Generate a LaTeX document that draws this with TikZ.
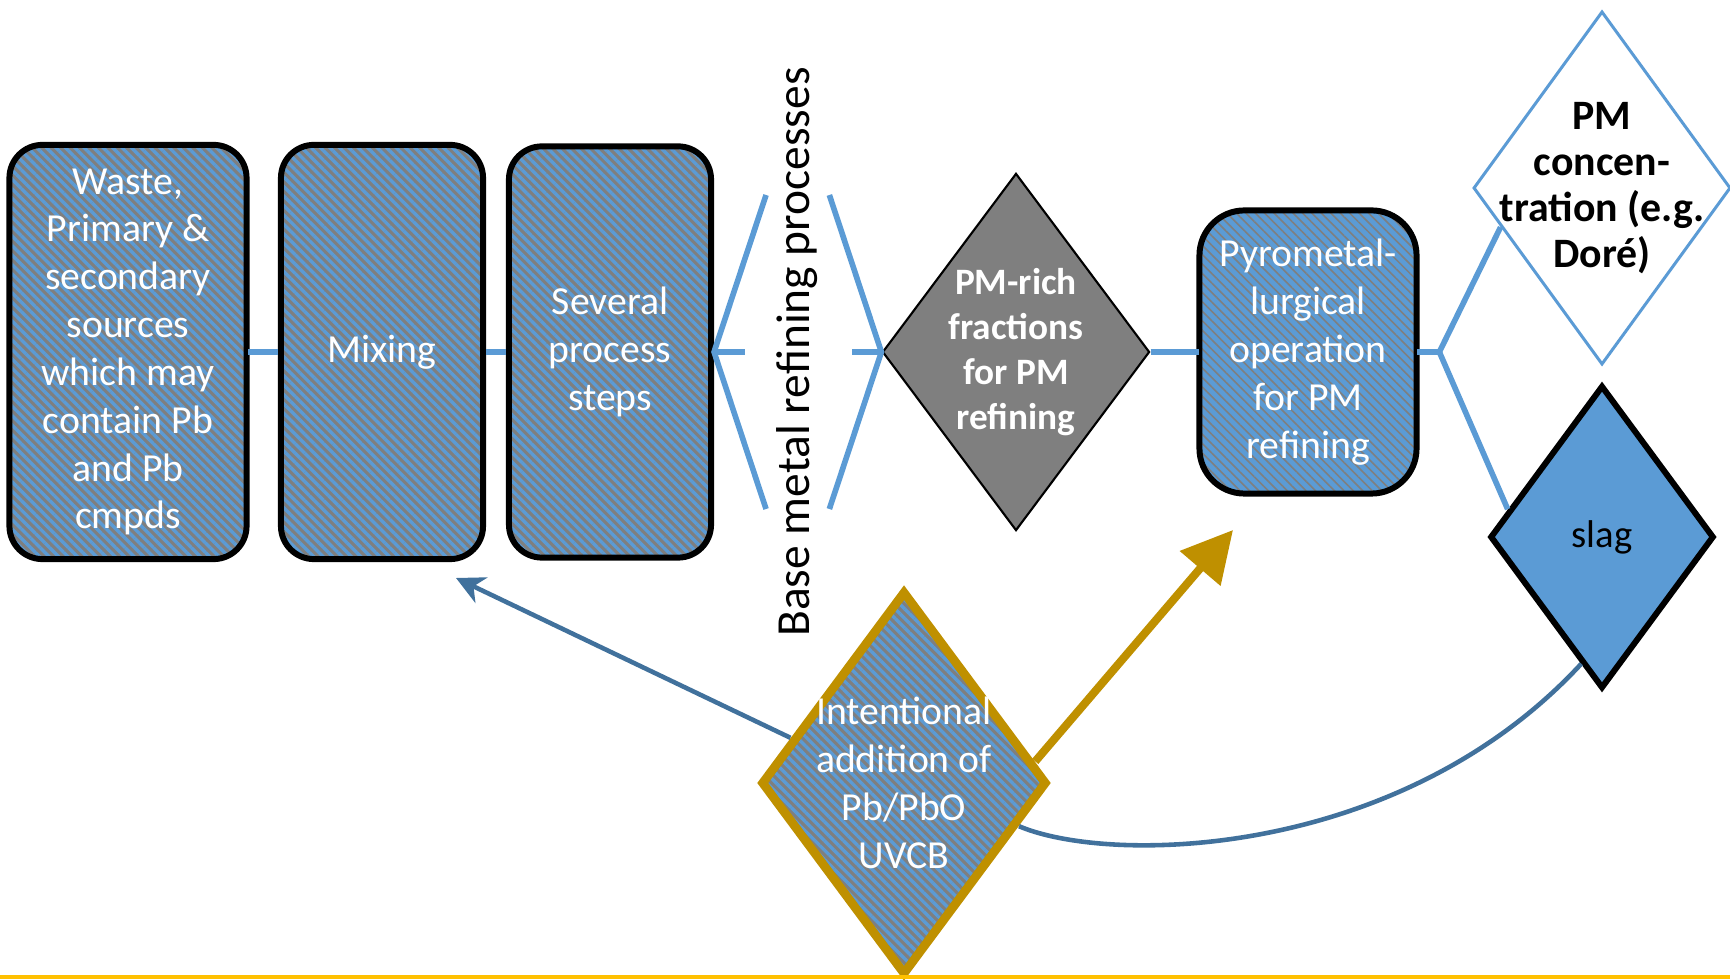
\documentclass[tikz,border=0pt]{standalone}
\usepackage{fontspec}
\setmainfont{Carlito}
\usetikzlibrary{shapes.geometric,patterns.meta,arrows.meta,calc}
\definecolor{pmblue}{HTML}{5B9BD5}
\definecolor{pmgray}{HTML}{7F7F7F}
\definecolor{pmsteel}{HTML}{41719C}
\definecolor{pmgold}{HTML}{BF9000}
\definecolor{pmyellow}{HTML}{FFC000}
\begin{document}
\begin{tikzpicture}[x=0.01cm,y=-0.01cm,
    stepbox/.style={draw, line width=1.7pt, rounded corners=0.33cm, preaction={fill=pmgray},
      pattern={Lines[angle=-45,distance=1.9pt,line width=0.95pt]}, pattern color=pmblue,
      text=white, align=center, inner sep=0pt, minimum width=2.02cm, minimum height=4.14cm,
      font=\fontsize{11.3}{13.6}\selectfont},
    dia/.style={shape=diamond, inner sep=0pt},
    dtext/.style={align=center, inner sep=0pt},
    link/.style={pmblue, line width=1.6pt},
    lead/.style={pmsteel, line width=1.3pt}]
  \useasboundingbox (0,0) rectangle (1730,980);

  % top row
  \node[stepbox, minimum width=2.37cm] (waste) at (128,352) {Waste,\\Primary \&\\secondary\\sources\\which may\\contain Pb\\and Pb\\cmpds};
  \node[stepbox] (mix) at (382,352) {Mixing};
  \node[stepbox, minimum height=4.11cm] (steps) at (610,352) {Several\\process\\steps};
  \node[rotate=90, font=\fontsize{13.5}{16}\selectfont] (bmr) at (797,352) {Base metal refining processes};
  \node[dia, draw, line width=0.6pt, fill=pmgray, minimum width=2.67cm, minimum height=3.57cm] (rich) at (1016,352) {};
  \node[dtext, text=white, font=\bfseries\fontsize{10.6}{12.8}\selectfont] (richtxt) at (rich) {PM-rich\\fractions\\for PM\\refining};
  \node[stepbox, rounded corners=0.45cm, preaction={fill=pmblue}, pattern color=pmgray,
    pattern={Lines[angle=-45,distance=1.9pt,line width=0.45pt]},
    minimum width=2.17cm, minimum height=2.83cm] (pyro) at (1308,352) {Pyrometal-\\lurgical\\operation\\for PM\\refining};

  % outputs
  \node[dia, draw=pmblue, line width=0.85pt, fill=white, minimum width=2.57cm, minimum height=3.53cm] (conc) at (1602,188) {};
  \node[dtext, font=\bfseries\fontsize{11.9}{13.1}\selectfont] (conctxt) at (conc) {PM\\concen-\\tration (e.g.\\Doré)};
  \node[dia, draw, line width=1.7pt, fill=pmblue, minimum width=2.24cm, minimum height=3.03cm] (slag) at (1602,537) {};
  \node[dtext, font=\fontsize{11}{13}\selectfont] (slagtxt) at (slag) {slag};

  % lead addition
  \node[dia, draw=pmgold, line width=2.5pt, preaction={fill=pmgray},
    pattern={Lines[angle=-45,distance=1.9pt,line width=0.95pt]}, pattern color=pmblue,
    minimum width=2.86cm, minimum height=3.84cm] (intent) at (904,783) {};
  \node[dtext, text=white, font=\fontsize{11.3}{13.6}\selectfont] (intenttxt) at (intent) {Intentional\\addition of\\Pb/PbO\\UVCB};

  \draw[link] (waste) -- (mix);
  \draw[link] (mix) -- (steps);
  \draw[link] ($(steps.east)+(52,-157)$) -- (steps.east) -- ($(steps.east)+(52,157)$);
  \draw[link] (steps.east) -- ++(31,0);
  \draw[link] ($(rich.west)+(-52,-157)$) -- (rich.west) -- ($(rich.west)+(-52,157)$);
  \draw[link] (rich.west) -- ++(-29,0);
  \draw[link] (rich) -- (pyro);
  \coordinate (fork) at ($(pyro.east)+(22,0)$);
  \draw[link] (pyro.east) -- (fork);
  \draw[link] (fork) -- ($(conc.west)!0.22!(conc.south)$);
  \draw[link] (fork) -- ($(slag.west)!0.18!(slag.north)$);

  \coordinate (pyrotip) at (1233,530);
  \coordinate (mixtip) at (456,578);
  \draw[pmgold, line width=2.3pt, -{Triangle[length=14.4pt,width=14.7pt]}] ($(intent.east)!0.11!(intent.north)$) -- (pyrotip);
  \draw[lead, -{Stealth[length=8pt,width=8pt,inset=2.5pt]}] ($(intent.west)!0.23!(intent.north)$) -- (mixtip);
  \draw[lead] ($(intent.east)!0.22!(intent.south)$) .. controls (1110,865) and (1400,860) .. ($(slag.west)!0.82!(slag.south)$);

  \draw[pmyellow, line width=1.3pt] (0,977) -- (1730,977);
\end{tikzpicture}
\end{document}
